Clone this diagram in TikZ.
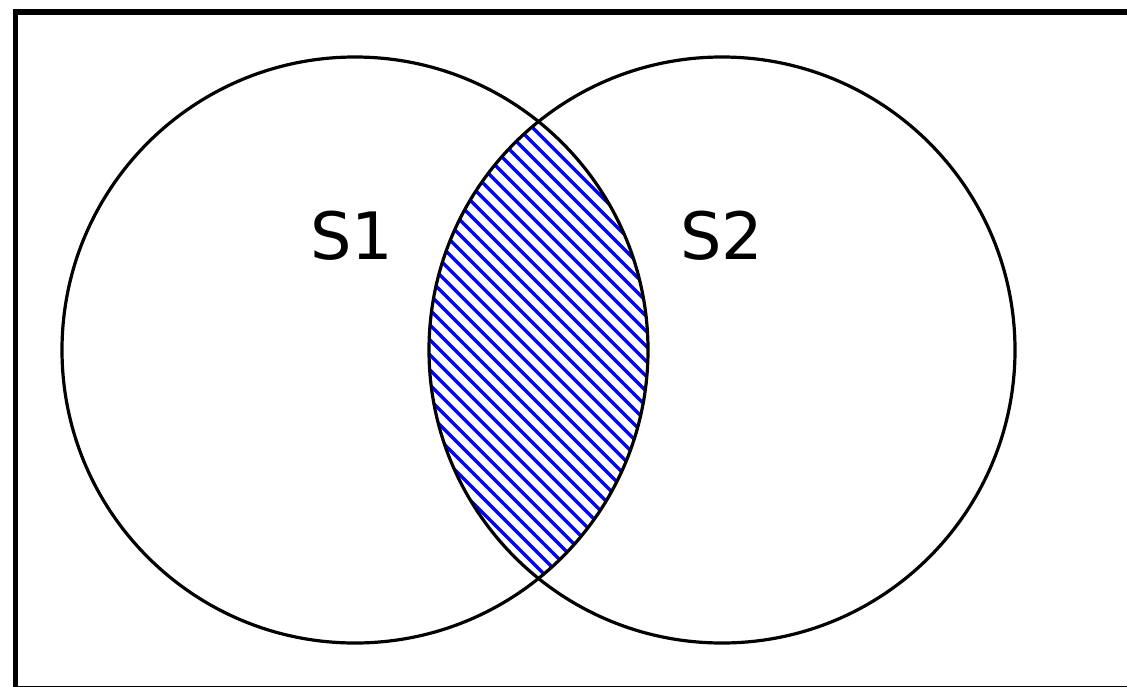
\documentclass[tikz,border=0pt]{standalone}
\usepackage{fontspec}
\setmainfont{DejaVu Sans}
\begin{document}
\begin{tikzpicture}[x=0.75pt,y=-0.75pt,
  setcircle/.style={draw=black,line width=2.4pt,circle,inner sep=0pt,minimum size=439.5pt},
  setlabel/.style={font=\fontsize{49}{52}\selectfont,inner sep=0pt},
  hatchline/.style={draw=blue,line width=2.6pt},
  frameline/.style={draw=black,line width=3.8pt}]
\useasboundingbox (0,0) rectangle (1127,686);
\begin{scope}
\clip (0,0) rectangle (1127,686);
\draw[frameline] (15.5,12) rectangle (1145,688.5);
\end{scope}
% hatched intersection
\begin{scope}
\clip (355,350) circle[radius=293];
\clip (722,350) circle[radius=293];
\foreach \c in {-180,-165,...,560} {
  \draw[hatchline] (\c+50,50) -- (\c+650,650);
}
\end{scope}
\node[setcircle] (c1) at (355,350) {};
\node[setcircle] (c2) at (722,350) {};
\node[setlabel] (s1) at (352,236) {S1};
\node[setlabel] (s2) at (722,236) {S2};
\end{tikzpicture}
\end{document}
